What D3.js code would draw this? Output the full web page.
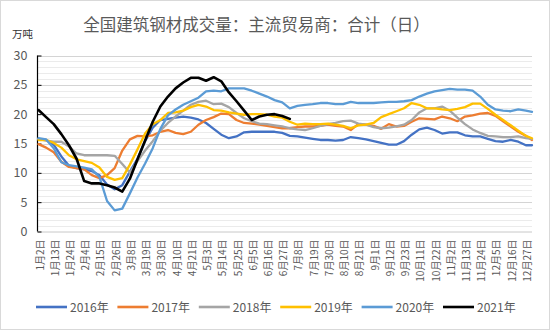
<!DOCTYPE html>
<html><head><meta charset="utf-8">
<script src="https://cdn.jsdelivr.net/npm/d3@7"></script>
<style>body{margin:0;background:#fff} svg{display:block;font-family:"Noto Sans CJK SC","Noto Sans",sans-serif}</style>
</head><body><svg id="c" width="550" height="330"></svg>
<script>
const titleText = "全国建筑钢材成交量：主流贸易商：合计（日）";
const unitText = "万吨";
const dateLabels = ["1月2日","1月13日","1月24日","2月4日","2月15日","2月26日","3月8日","3月19日","3月30日","4月10日","4月21日","5月3日","5月14日","5月25日","6月5日","6月16日","6月27日","7月8日","7月19日","7月30日","8月10日","8月21日","9月1日","9月12日","9月23日","10月11日","10月22日","11月2日","11月13日","11月24日","12月5日","12月16日","12月27日"];
const yTicks = [0,5,10,15,20,25,30];
// sample positions, measured in label-interval units (0 = 1月2日)
const samplePos = [0,0.5,1,1.5,2,2.5,3,3.5,4,4.5,5,5.5,6,6.5,7,7.5,8,8.5,9,9.5,10,10.5,11,11.5,12,12.5,13,13.5,14,14.5,15,15.5,16,16.5,17,17.5,18,18.5,19,19.5,20,20.5,21,21.5,22,22.5,23,23.5,24,24.5,25,25.5,26,26.5,27,27.5,28,28.5,29,29.5,30,30.5,31,31.5,32,32.4];
const seriesNames = ["2016年","2017年","2018年","2019年","2020年","2021年"];
const seriesColors = ["#4472C4","#ED7D31","#A5A5A5","#FFC000","#5B9BD5","#000000"];
const v2016 = [15.8,15.6, 14.8,12.8, 11.2,10.8, 10.6,10.3, 9.6,8.0, 7.2,7.9, 10.2,12.4, 15.4,17.7, 19.0,19.2, 19.4,19.6, 19.4,19.1, 18.5,17.5, 16.5,15.9, 16.2,16.9, 17.0,17.0, 17.0,17.0, 16.8,16.3, 16.2,16.0, 15.8,15.6, 15.6,15.5, 15.6,16.1, 15.9,15.7, 15.4,15.1, 14.8,14.8, 15.4,16.5, 17.4,17.7, 17.3,16.7, 16.9,16.9, 16.4,16.2, 16.2,15.8, 15.4,15.3, 15.6,15.3, 14.7, 14.7];
const v2017 = [14.9,14.3, 13.5,11.9, 11.0,10.8, 10.6,9.6, 9.1,9.6, 10.8,13.8, 15.7,16.3, 16.2,16.4, 17.0,17.3, 16.8,16.6, 17.0,18.2, 19.0,19.5, 20.1,20.0, 19.0,18.5, 18.4,18.2, 18.0,17.8, 17.6,17.6, 17.8,17.9, 17.9,18.0, 18.2,18.0, 17.9,17.3, 18.3,18.2, 18.0,17.5, 18.3,17.9, 18.0,18.7, 19.3,19.2, 19.1,19.6, 19.3,18.8, 19.6,19.8, 20.1,20.2, 19.7,18.8, 17.9,17.0, 16.3, 15.6];
const v2018 = [15.8,15.5, 15.3,15.3, 14.5,13.3, 13.0,13.0, 13.0,13.0, 12.9,11.5, 10.0,12.0, 13.8,15.4, 17.2,18.5, 19.6,20.6, 21.6,22.1, 22.3,21.7, 21.8,21.2, 20.2,19.3, 18.8,18.4, 18.3,18.1, 17.9,17.6, 17.4,17.3, 17.6,18.0, 18.3,18.5, 18.8,18.9, 18.4,18.2, 17.8,17.6, 17.7,17.9, 18.2,19.0, 20.3,21.0, 21.0,21.3, 20.6,19.4, 18.3,17.4, 16.8,16.3, 16.2,16.1, 16.1,16.2, 15.9, 15.8];
const v2019 = [15.6,15.6, 15.1,14.3, 13.0,12.3, 12.0,11.7, 10.9,9.3, 8.8,9.1, 11.4,14.0, 16.7,18.3, 19.0,20.2, 20.3,20.6, 21.2,21.6, 21.3,20.7, 20.6,20.3, 20.1,19.9, 20.0,20.0, 19.9,19.6, 19.4,18.7, 18.2,18.4, 18.3,18.3, 18.4,18.2, 18.0,17.6, 18.1,18.2, 18.5,19.5, 20.0,20.5, 21.0,21.9, 21.6,21.0, 21.0,20.8, 20.7,20.9, 21.2,21.8, 21.8,20.9, 19.9,19.0, 18.1,17.2, 16.3, 15.9];
const v2020 = [15.9,15.7, 14.2,11.8, 11.3,11.1, 10.9,10.6, 9.3,5.2, 3.6,3.9, 6.5,9.2, 11.6,14.2, 17.5,19.8, 20.8,21.6, 22.2,22.8, 23.9,24.0, 23.9,24.4, 24.4,24.4, 24.0,23.5, 23.0,22.4, 22.0,21.0, 21.4,21.6, 21.7,21.9, 21.9,21.7, 21.7,22.1, 21.9,21.9, 21.9,22.0, 22.1,22.1, 22.2,22.4, 23.0,23.5, 23.9,24.1, 24.3,24.2, 24.2,24.0, 23.0,21.6, 20.8,20.6, 20.5,20.8, 20.6, 20.4];
const v2021 = [20.7,19.5, 18.3,16.6, 14.7,12.4, 8.6,8.2, 8.2,7.9, 7.5,6.8, 9.0,12.3, 15.5,18.7, 21.3,23.0, 24.4,25.4, 26.2,26.2, 25.7,26.3, 25.6,23.7, 22.2,20.6, 19.0,19.6, 19.9,20.0, 19.7,19.2];
const seriesValues = [v2016, v2017, v2018, v2019, v2020, v2021];

const svg = d3.select("#c");
const W = 550, H = 330;
const plot = {left: 37.5, right: 532, top: 55.5, bottom: 231.5};

svg.append("rect").attr("x",0.5).attr("y",0.5).attr("width",W-1).attr("height",H-1)
  .attr("fill","#fff").attr("stroke","#d9d9d9");

const x = d3.scaleLinear().domain([0, 32.4]).range([38.5, plot.right]);
const y = d3.scaleLinear().domain([0, 30]).range([plot.bottom, plot.top]);

// gridlines
const g = svg.append("g");
g.selectAll("line.minor").data(d3.range(1, 30).filter(v => v % 5 !== 0)).join("line")
  .attr("x1", plot.left).attr("x2", plot.right)
  .attr("y1", d => Math.round(y(d)) + 0.5).attr("y2", d => Math.round(y(d)) + 0.5)
  .attr("stroke", "#ebebeb").attr("stroke-width", 1);
g.selectAll("line.major").data(yTicks.filter(v => v > 0)).join("line")
  .attr("x1", plot.left).attr("x2", plot.right)
  .attr("y1", d => Math.round(y(d)) + 0.5).attr("y2", d => Math.round(y(d)) + 0.5)
  .attr("stroke", "#d4d4d4").attr("stroke-width", 1);

// x axis
const xAxis = d3.axisBottom(x).tickValues(d3.range(dateLabels.length))
  .tickFormat(i => dateLabels[i]).tickSize(0).tickPadding(0);
const xg = svg.append("g").attr("transform", `translate(0,${plot.bottom})`).call(xAxis);
xg.select(".domain").attr("stroke", "#c8c8c8").attr("d", `M${plot.left},0.5H${plot.right}`);
xg.selectAll("text")
  .attr("fill", "#595959").attr("font-size", "10px").attr("font-family", '"Noto Sans CJK SC",sans-serif')
  .attr("text-anchor", "end").attr("dy", "0.35em").attr("y", 0)
  .attr("transform", "translate(1,8) rotate(-90)").attr("x", 0);

// y axis
const yAxis = d3.axisLeft(y).tickValues(yTicks).tickSize(0).tickPadding(10);
const yg = svg.append("g").attr("transform", `translate(${plot.left},0)`).call(yAxis);
yg.select(".domain").attr("stroke", "#000").attr("stroke-width", 1.2)
  .attr("d", `M0,${plot.top}V${plot.bottom}`);
yg.selectAll("text").attr("fill", "#595959").attr("font-size", "12.5px")
  .attr("font-family", '"Noto Sans CJK SC",sans-serif');
yg.selectAll(".tick").append("line").attr("x1", 0).attr("x2", 4).attr("stroke", "#000");

// lines
const line = d3.line().defined(d => d[1] != null)
  .x(d => x(d[0])).y(d => y(d[1])).curve(d3.curveLinear);
seriesValues.forEach((vals, k) => {
  const pts = vals.map((v, i) => [samplePos[i], v]);
  svg.append("path").datum(pts).attr("d", line)
    .attr("fill", "none").attr("stroke", seriesColors[k])
    .attr("stroke-width", k === 5 ? 2.6 : 2.3).attr("stroke-linejoin", "round").attr("stroke-linecap", "round");
});

// title & unit
svg.append("text").attr("x", 256.5).attr("y", 31).attr("text-anchor", "middle")
  .attr("font-size", "16.5px").attr("fill", "#595959").text(titleText);
svg.append("text").attr("x", 12).attr("y", 38).attr("font-size", "10.5px")
  .attr("fill", "#333").text(unitText);

// legend
const lg = svg.append("g");
seriesNames.forEach((name, k) => {
  const x0 = 36 + k * 81.4;
  lg.append("line").attr("x1", x0).attr("x2", x0 + 31).attr("y1", 307).attr("y2", 307)
    .attr("stroke", seriesColors[k]).attr("stroke-width", 2.6);
  lg.append("text").attr("x", x0 + 34).attr("y", 311.5).attr("font-size", "12px")
    .attr("fill", "#595959").text(name);
});
</script></body></html>
